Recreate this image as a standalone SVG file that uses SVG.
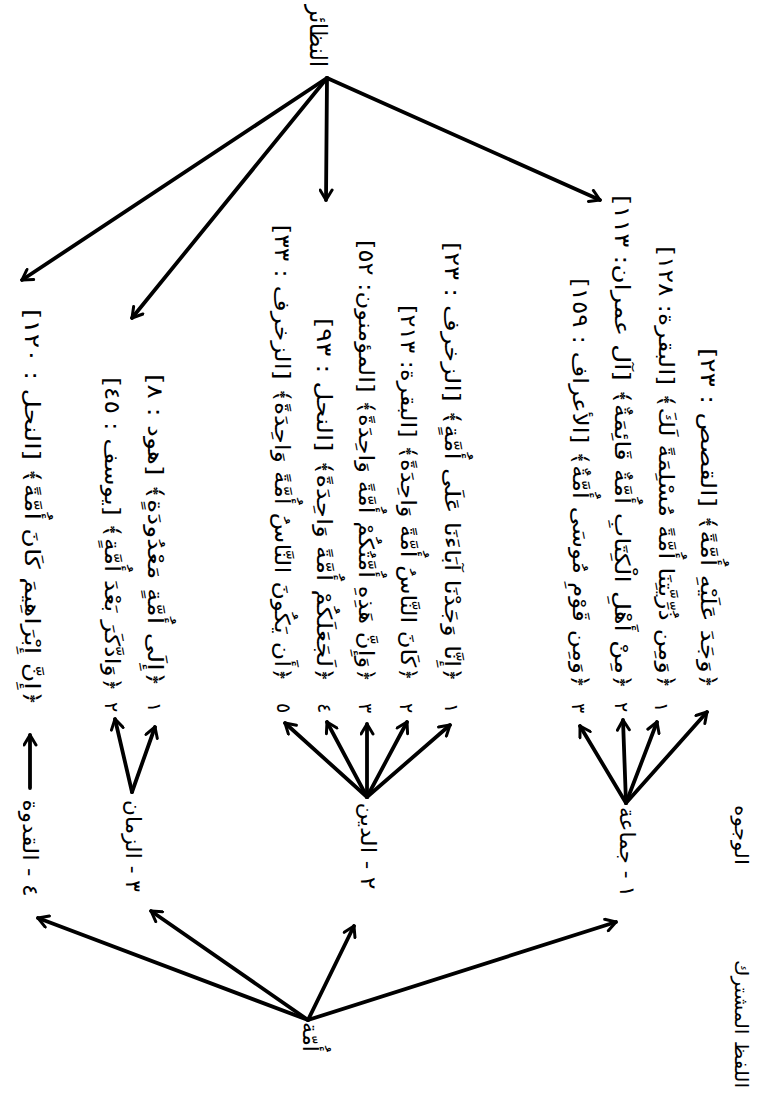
<svg xmlns="http://www.w3.org/2000/svg" width="761" height="1097" viewBox="0 0 761 1097">
  <defs>
    <marker id="arrow" viewBox="0 0 12 12" refX="10" refY="6" markerWidth="15" markerHeight="15" markerUnits="userSpaceOnUse" orient="auto">
      <path d="M2,1.2 L10,6 L2,10.8" fill="none" stroke="#000" stroke-width="2.4" stroke-linecap="round" stroke-linejoin="round"/>
    </marker>
    <style>
      text { font-family: "DejaVu Sans", "Noto Sans", sans-serif; fill: #000; direction: rtl; text-anchor: middle; dominant-baseline: central; }
      .verse { font-size: 21px; }
      .num { font-size: 19px; }
      .label { font-size: 21px; }
      .head { font-size: 19px; }
      .title { font-size: 24px; }
      .edge { stroke: #000; stroke-width: 3.8; fill: none; stroke-linecap: round; marker-end: url(#arrow); }
    </style>
  </defs>
  <rect width="761" height="1097" fill="#fff"/>

  <!-- headings along the right edge -->
  <g id="head-wujuh">
    <text class="head" transform="translate(742,835) rotate(90)" textLength="60" lengthAdjust="spacingAndGlyphs">الوجوه</text>
  </g>
  <g id="head-mushtarak">
    <text class="head" transform="translate(742,1024) rotate(90)" textLength="128" lengthAdjust="spacingAndGlyphs">اللفظ المشترك</text>
  </g>

  <!-- root word -->
  <g id="node-umma">
    <text class="label" transform="translate(310,1037) rotate(90)" textLength="30" lengthAdjust="spacingAndGlyphs">أُمّة</text>
  </g>

  <!-- title of the analogues -->
  <g id="node-nazair">
    <text class="title" transform="translate(318,36) rotate(90)" textLength="62" lengthAdjust="spacingAndGlyphs">النظائر</text>
  </g>

  <!-- meanings -->
  <g id="node-jamaa">
    <text class="label" transform="translate(627,852) rotate(90)" textLength="90" lengthAdjust="spacingAndGlyphs">١ - جماعة</text>
  </g>
  <g id="node-din">
    <text class="label" transform="translate(368,846) rotate(90)" textLength="87" lengthAdjust="spacingAndGlyphs">٢ - الدين</text>
  </g>
  <g id="node-zaman">
    <text class="label" transform="translate(133,846) rotate(90)" textLength="92" lengthAdjust="spacingAndGlyphs">٣ - الزمان</text>
  </g>
  <g id="node-qudwa">
    <text class="label" transform="translate(30,848) rotate(90)" textLength="97" lengthAdjust="spacingAndGlyphs">٤ - القدوة</text>
  </g>

  <!-- verses: group (1) جماعة -->
  <g id="verse-qasas-23">
    <text class="verse" transform="translate(708,518) rotate(90)" textLength="340" lengthAdjust="spacingAndGlyphs">﴿وَجَدَ عَلَيْهِ أُمَّةً﴾ [القصص : ٢٣]</text>
  </g>
  <g id="verse-baqara-128">
    <text class="verse" transform="translate(666,467) rotate(90)" textLength="442" lengthAdjust="spacingAndGlyphs">﴿وَمِن ذُرِّيَّتِنَا أُمَّةً مُسْلِمَةً لَكَ﴾ [البقرة: ١٢٨]</text>
    <text class="num" transform="translate(662,707) rotate(90)">١</text>
  </g>
  <g id="verse-imran-113">
    <text class="verse" transform="translate(622,442) rotate(90)" textLength="494" lengthAdjust="spacingAndGlyphs">﴿مِنْ أَهْلِ الْكِتَابِ أُمَّةٌ قَائِمَةٌ﴾ [آل عمران: ١١٣]</text>
    <text class="num" transform="translate(622,707) rotate(90)">٢</text>
  </g>
  <g id="verse-araf-159">
    <text class="verse" transform="translate(580,483) rotate(90)" textLength="410" lengthAdjust="spacingAndGlyphs">﴿وَمِن قَوْمِ مُوسَى أُمَّةٌ﴾ [الأعراف : ١٥٩]</text>
    <text class="num" transform="translate(579,708) rotate(90)">٣</text>
  </g>

  <!-- verses: group (2) الدين -->
  <g id="verse-zukhruf-23">
    <text class="verse" transform="translate(452,462) rotate(90)" textLength="440" lengthAdjust="spacingAndGlyphs">﴿إِنَّا وَجَدْنَا آبَاءَنَا عَلَى أُمَّةٍ﴾ [الزخرف : ٢٣]</text>
    <text class="num" transform="translate(452,708) rotate(90)">١</text>
  </g>
  <g id="verse-baqara-213">
    <text class="verse" transform="translate(408,493) rotate(90)" textLength="376" lengthAdjust="spacingAndGlyphs">﴿كَانَ النَّاسُ أُمَّةً وَاحِدَةً﴾ [البقرة: ٢١٣]</text>
    <text class="num" transform="translate(407,708) rotate(90)">٢</text>
  </g>
  <g id="verse-muminun-52">
    <text class="verse" transform="translate(366,461) rotate(90)" textLength="442" lengthAdjust="spacingAndGlyphs">﴿وَإِنَّ هَذِهِ أُمَّتُكُمْ أُمَّةً وَاحِدَةً﴾ [المؤمنون: ٥٢]</text>
    <text class="num" transform="translate(366,708) rotate(90)">٣</text>
  </g>
  <g id="verse-nahl-93">
    <text class="verse" transform="translate(324,500) rotate(90)" textLength="364" lengthAdjust="spacingAndGlyphs">﴿لَجَعَلَكُمْ أُمَّةً وَاحِدَةً﴾ [النحل : ٩٣]</text>
    <text class="num" transform="translate(325,708) rotate(90)">٤</text>
  </g>
  <g id="verse-zukhruf-33">
    <text class="verse" transform="translate(282,453) rotate(90)" textLength="457" lengthAdjust="spacingAndGlyphs">﴿أَن يَكُونَ النَّاسُ أُمَّةً وَاحِدَةً﴾ [الزخرف : ٣٣]</text>
    <text class="num" transform="translate(284,708) rotate(90)">٥</text>
  </g>

  <!-- verses: group (3) الزمان -->
  <g id="verse-hud-8">
    <text class="verse" transform="translate(155,530) rotate(90)" textLength="312" lengthAdjust="spacingAndGlyphs">﴿إِلَى أُمَّةٍ مَعْدُودَةٍ﴾ [هود : ٨]</text>
    <text class="num" transform="translate(155,707) rotate(90)">١</text>
  </g>
  <g id="verse-yusuf-45">
    <text class="verse" transform="translate(112,534) rotate(90)" textLength="314" lengthAdjust="spacingAndGlyphs">﴿وَادَّكَرَ بَعْدَ أُمَّةٍ﴾ [يوسف : ٤٥]</text>
    <text class="num" transform="translate(112,707) rotate(90)">٢</text>
  </g>

  <!-- verse: group (4) القدوة -->
  <g id="verse-nahl-120">
    <text class="verse" transform="translate(32,507) rotate(90)" textLength="396" lengthAdjust="spacingAndGlyphs">﴿إِنَّ إِبْرَاهِيمَ كَانَ أُمَّةً﴾ [النحل : ١٢٠]</text>
  </g>

  <!-- connectors -->
  <g id="connectors">
    <!-- النظائر to the verse groups -->
    <line class="edge" x1="327" y1="78" x2="600" y2="200"/>
    <line class="edge" x1="327" y1="78" x2="326" y2="200"/>
    <line class="edge" x1="327" y1="78" x2="132" y2="318"/>
    <line class="edge" x1="327" y1="78" x2="22" y2="280"/>
    <!-- أمة to its meanings -->
    <line class="edge" x1="308" y1="1020" x2="616" y2="922"/>
    <line class="edge" x1="308" y1="1020" x2="354" y2="926"/>
    <line class="edge" x1="308" y1="1020" x2="151" y2="911"/>
    <line class="edge" x1="308" y1="1020" x2="38" y2="918"/>
    <!-- جماعة to its verses -->
    <line class="edge" x1="626" y1="803" x2="707" y2="712"/>
    <line class="edge" x1="626" y1="803" x2="657" y2="722"/>
    <line class="edge" x1="626" y1="803" x2="623" y2="720"/>
    <line class="edge" x1="626" y1="803" x2="580" y2="726"/>
    <!-- الدين to its verses -->
    <line class="edge" x1="367" y1="797" x2="450" y2="725"/>
    <line class="edge" x1="367" y1="797" x2="407" y2="722"/>
    <line class="edge" x1="367" y1="797" x2="367" y2="724"/>
    <line class="edge" x1="367" y1="797" x2="327" y2="722"/>
    <line class="edge" x1="367" y1="797" x2="285" y2="723"/>
    <!-- الزمان to its verses -->
    <line class="edge" x1="132" y1="792" x2="155" y2="727"/>
    <line class="edge" x1="132" y1="792" x2="115" y2="719"/>
    <!-- القدوة to its verse -->
    <line class="edge" x1="30" y1="788" x2="30" y2="735"/>
  </g>
</svg>
